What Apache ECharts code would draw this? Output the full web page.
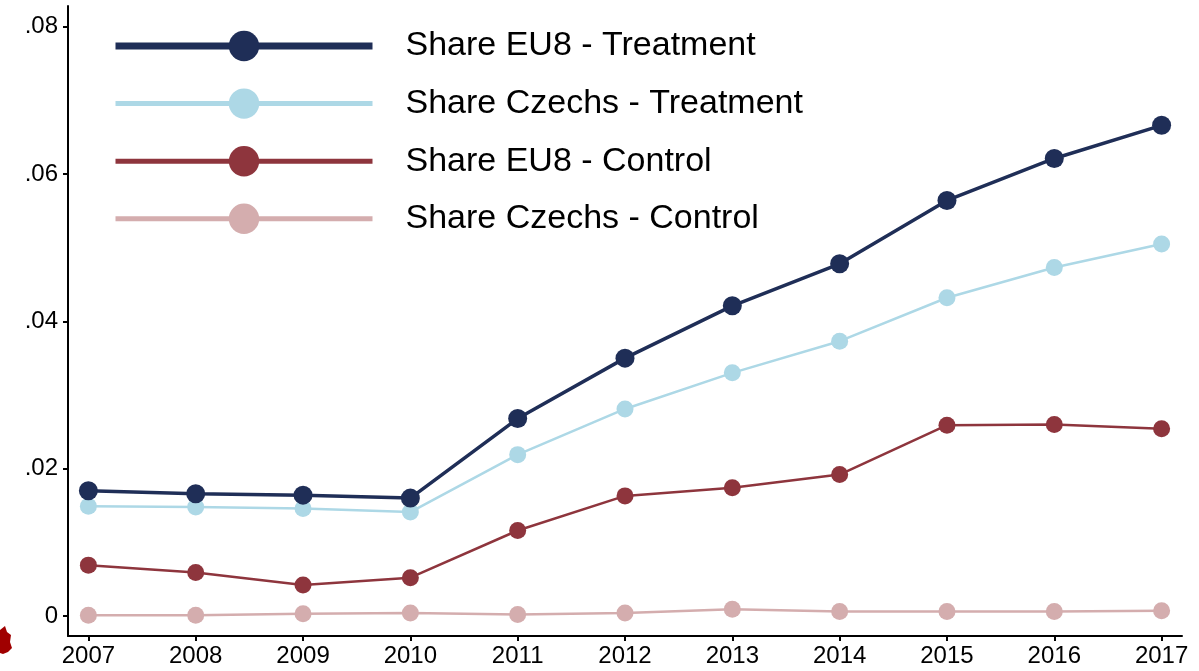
<!DOCTYPE html>
<html>
<head>
<meta charset="utf-8">
<script src="https://cdn.jsdelivr.net/npm/echarts@6/dist/echarts.min.js"></script>
<style>html,body{margin:0;padding:0;background:#fff;}#c{width:1199px;height:671px;}</style>
</head>
<body>
<div id="c"></div>
<script>
const years = [2007, 2008, 2009, 2010, 2011, 2012, 2013, 2014, 2015, 2016, 2017];
const eu8Treatment = [0.0170, 0.0166, 0.0164, 0.0160, 0.0268, 0.0350, 0.0421, 0.0478, 0.0564, 0.0621, 0.0666];
const czechsTreatment = [0.0149, 0.0148, 0.0146, 0.0141, 0.0219, 0.0281, 0.0330, 0.0373, 0.0432, 0.0473, 0.0505];
const eu8Control = [0.0069, 0.0059, 0.0042, 0.0052, 0.0116, 0.0163, 0.0174, 0.0192, 0.0259, 0.0260, 0.0254];
const czechsControl = [0.0001, 0.0001, 0.0003, 0.0004, 0.0002, 0.0004, 0.0009, 0.0006, 0.0006, 0.0006, 0.0007];
const yTicks = [0, 0.02, 0.04, 0.06, 0.08];
const seriesNames = ['Share EU8 - Treatment', 'Share Czechs - Treatment', 'Share EU8 - Control', 'Share Czechs - Control'];
const colors = ['#1F2E57', '#ADD8E6', '#8E353D', '#D4ADAE'];
const seriesData = [eu8Treatment, czechsTreatment, eu8Control, czechsControl];
const lineWidths = [3.5, 2.5, 2.5, 2.5];
const symbolSizes = [19, 17, 17, 17];
const legendLineWidths = [7, 5, 5, 5];

const chart = echarts.init(document.getElementById('c'));
const font = '"Liberation Sans", Arial, sans-serif';

const series = seriesNames.map((name, i) => ({
  name: name,
  type: 'line',
  data: years.map((y, j) => [y, seriesData[i][j]]),
  symbol: 'circle',
  symbolSize: symbolSizes[i],
  lineStyle: { color: colors[i], width: lineWidths[i] },
  itemStyle: { color: colors[i] },
  z: 10 - i,
  animation: false
}));

chart.setOption({
  animation: false,
  backgroundColor: '#ffffff',
  grid: { left: 68, right: 17, top: 6, bottom: 35, containLabel: false },
  legend: {
    left: 107,
    top: 24,
    orient: 'vertical',
    itemWidth: 257,
    itemHeight: 38,
    itemGap: 23.6,
    textStyle: { fontFamily: font, fontSize: 34, lineHeight: 30, color: '#000', padding: [0, 0, 0, 28] },
    data: seriesNames.map((n, i) => ({
      name: n,
      lineStyle: { width: legendLineWidths[i], color: colors[i] },
      itemStyle: { color: colors[i] }
    }))
  },
  xAxis: {
    type: 'value',
    min: 2006.81,
    max: 2017.19,
    axisLine: { show: true, onZero: false, lineStyle: { color: '#000', width: 2 } },
    axisTick: { show: true, length: 5, lineStyle: { color: '#000', width: 2 }, customValues: years },
    axisLabel: { customValues: years, formatter: v => String(Math.round(v)), fontFamily: font, fontSize: 24, color: '#000', margin: 8 },
    splitLine: { show: false }
  },
  yAxis: {
    type: 'value',
    min: -0.00272,
    max: 0.0828,
    axisLine: { show: true, onZero: false, lineStyle: { color: '#000', width: 2 } },
    axisTick: { show: true, length: 5, lineStyle: { color: '#000', width: 2 }, customValues: yTicks },
    axisLabel: {
      customValues: yTicks,
      formatter: v => (Math.abs(v) < 1e-9 ? '0' : v.toFixed(2).replace(/^0/, '')),
      fontFamily: font, fontSize: 24, color: '#000', margin: 10
    },
    splitLine: { show: false }
  },
  graphic: [{
    type: 'polygon',
    left: 0, top: 626,
    shape: { points: [[0, 4], [5, 0], [7, 6], [11, 9], [10, 16], [12, 22], [8, 26], [3, 28], [0, 27]] },
    style: { fill: '#A00000' },
    silent: true
  }],
  series: series
});
</script>
</body>
</html>
